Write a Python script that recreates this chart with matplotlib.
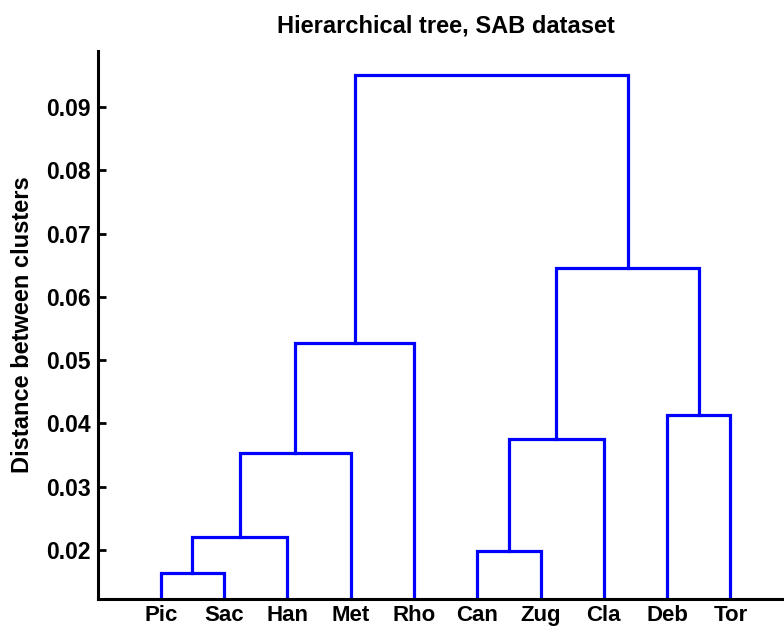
import matplotlib
matplotlib.use("Agg")
from matplotlib import pyplot as plt

plt.rcParams["font.family"] = ["Liberation Sans", "DejaVu Sans"]
plt.rcParams["font.weight"] = "bold"

leaves = ["Pic", "Sac", "Han", "Met", "Rho", "Can", "Zug", "Cla", "Deb", "Tor"]

# linkage rows: (left child, right child, distance); ids >= len(leaves) are earlier merges
merge_left = [0, 10, 11, 12, 5, 14, 8, 15, 13]
merge_right = [1, 2, 3, 4, 6, 7, 9, 16, 17]
merge_dist = [0.0163, 0.0220, 0.0354, 0.0527, 0.0198, 0.0376, 0.0414, 0.0646, 0.0951]

ytick_vals = [0.02, 0.03, 0.04, 0.05, 0.06, 0.07, 0.08, 0.09]


def draw_tree(ax):
    xs = {i: i + 1 for i in range(len(leaves))}
    ys = {i: 0.0 for i in range(len(leaves))}
    for k, (a, b, d) in enumerate(zip(merge_left, merge_right, merge_dist)):
        node = len(leaves) + k
        ax.plot([xs[a], xs[a], xs[b], xs[b]], [ys[a], d, d, ys[b]],
                color="#0000ff", lw=2.3, solid_joinstyle="miter")
        xs[node] = (xs[a] + xs[b]) / 2
        ys[node] = d


fig = plt.figure(figsize=(7.84, 6.3), dpi=100)
ax = fig.add_axes([0.1244, 0.0492, 0.888, 0.8703])
draw_tree(ax)

ax.set_xlim(0, 11)
ax.set_ylim(0.01225, 0.0989)
ax.set_xticks(range(1, len(leaves) + 1))
ax.set_xticklabels(leaves, fontsize=16, fontweight="bold")
ax.set_yticks(ytick_vals)
ax.set_yticklabels([f"{v:.2f}" for v in ytick_vals], fontsize=16.5, fontweight="bold")
ax.tick_params(axis="x", length=0, pad=4.5)
ax.tick_params(axis="y", direction="in", length=6, width=2, pad=5)
for side in ["top", "right"]:
    ax.spines[side].set_visible(False)
for side in ["left", "bottom"]:
    ax.spines[side].set_linewidth(2.2)

fig.text(23 / 784, 0.484, "Distance between clusters", rotation=90,
         ha="center", va="center", fontsize=17, fontweight="bold")
ax.set_title("Hierarchical tree, SAB dataset", fontsize=17, fontweight="bold", pad=13)

fig.savefig("out.png", dpi=100)
